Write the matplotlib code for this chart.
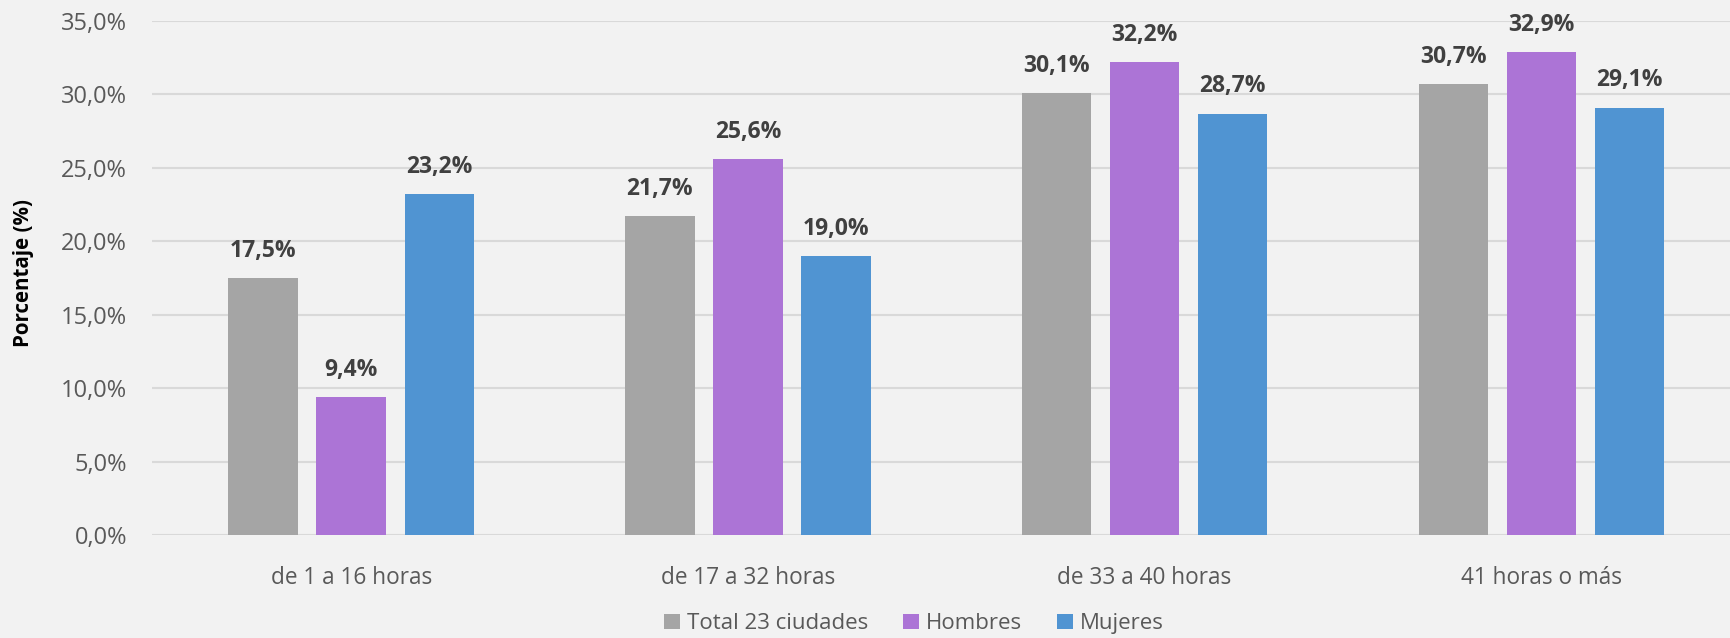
import matplotlib.pyplot as plt
import numpy as np

plt.rcParams['font.family'] = ['Open Sans', 'DejaVu Sans']

categorias = ["de 1 a 16 horas", "de 17 a 32 horas", "de 33 a 40 horas", "41 horas o más"]
series = ["Total 23 ciudades", "Hombres", "Mujeres"]
total = [17.5, 21.7, 30.1, 30.7]
hombres = [9.4, 25.6, 32.2, 32.9]
mujeres = [23.2, 19.0, 28.7, 29.1]
colores = ["#A5A5A5", "#AC74D6", "#5094D2"]
yticks = [0, 5, 10, 15, 20, 25, 30, 35]

bg = "#F2F2F2"
fig = plt.figure(figsize=(17.31, 6.38), dpi=100, facecolor=bg)
ax = fig.add_axes([0.0878, 0.1614, 0.9122, 0.8056], facecolor=bg)

x = np.arange(len(categorias))
w = 0.175
paso = 0.222
for i, (vals, nombre, c) in enumerate(zip([total, hombres, mujeres], series, colores)):
    pos = x + (i - 1) * paso
    bars = ax.bar(pos, vals, width=w, color=c, label=nombre, zorder=3)
    for b, v in zip(bars, vals):
        ax.annotate(f"{v:.1f}%".replace(".", ","), (b.get_x() + b.get_width() / 2, v),
                    xytext=(0, 11), textcoords="offset points", ha="center", va="bottom",
                    fontsize=16.5, fontweight="bold", color="#404040")

ax.set_xlim(-0.502, 3.478)
ax.set_ylim(0, 35)
ax.set_yticks(yticks)
ax.set_yticklabels([f"{t:.1f}%".replace(".", ",") for t in yticks])
ax.set_xticks(x)
ax.set_xticklabels(categorias)
ax.tick_params(axis="both", length=0, labelcolor="#595959")
ax.tick_params(axis="x", pad=22, labelsize=16.3)
ax.tick_params(axis="y", pad=18, labelsize=17)
ax.grid(axis="y", color="#D9D9D9", linewidth=1.5, zorder=0)
for s in ax.spines.values():
    s.set_visible(False)

ax.set_ylabel("Porcentaje (%)", fontsize=14.8, fontweight="bold", color="black")
ax.yaxis.set_label_coords(-0.075, 0.51)

fig.legend(loc="center", bbox_to_anchor=(0.528, 0.022), ncol=3, frameon=False,
           fontsize=16, labelcolor="#595959", handlelength=0.7, handleheight=0.7,
           handletextpad=0.3, columnspacing=1.6)

fig.savefig("out.png", dpi=100, facecolor=bg)
